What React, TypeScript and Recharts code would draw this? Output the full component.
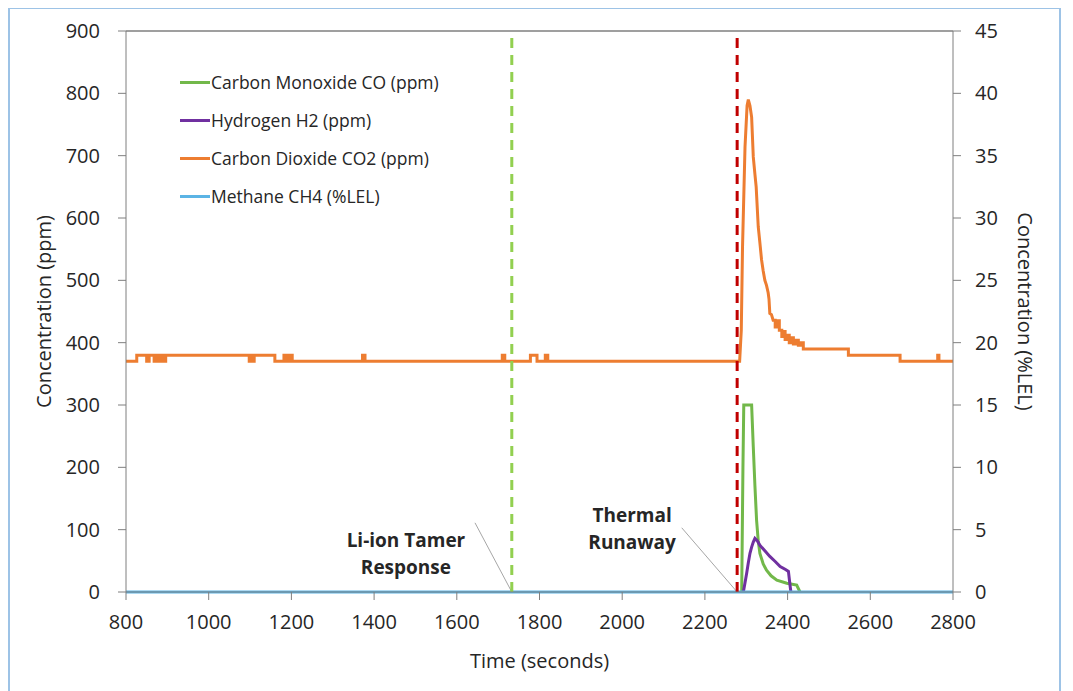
import React from 'react';
import {
  ComposedChart, Line, XAxis, YAxis, ReferenceLine, ReferenceDot,
} from 'recharts';

type Pt = [number, number];

const xTicks = [800, 1000, 1200, 1400, 1600, 1800, 2000, 2200, 2400, 2600, 2800];
const leftTicks = [0, 100, 200, 300, 400, 500, 600, 700, 800, 900];
const rightTicks = [0, 5, 10, 15, 20, 25, 30, 35, 40, 45];

const coData: Pt[] = [
  [2289, 0], [2292, 200], [2294, 300], [2313, 300], [2317, 233], [2321, 170], [2325, 115],
  [2329, 82], [2333, 62], [2341, 45], [2349, 35], [2360, 26], [2374, 19], [2398, 14],
  [2422, 11], [2430, 0],
];

const h2Data: Pt[] = [
  [2293, 0], [2297, 15], [2301, 30], [2305, 47], [2309, 62], [2313, 72], [2317, 80],
  [2321, 86], [2327, 82], [2333, 75], [2345, 66], [2357, 57], [2370, 49], [2382, 41],
  [2395, 36], [2402, 33], [2406, 10], [2408, 0],
];

const co2Data: Pt[] = [
  [800, 370], [826, 370], [826, 380], [850, 380], [850, 370], [856, 370], [856, 380],
  [868, 380], [868, 370], [872, 370], [872, 380], [876, 380], [876, 370], [880, 370],
  [880, 380], [884, 380], [884, 370], [888, 370], [888, 380], [892, 380], [892, 370],
  [896, 370], [896, 380], [1098, 380], [1098, 370], [1102, 370], [1102, 380], [1106, 380],
  [1106, 370], [1110, 370], [1110, 380], [1160, 380], [1160, 370], [1182, 370], [1182, 380],
  [1186, 380], [1186, 370], [1192, 370], [1192, 380], [1195, 380], [1195, 370], [1199, 370],
  [1199, 380], [1202, 380], [1202, 370], [1372, 370], [1372, 380], [1378, 380], [1378, 370],
  [1710, 370], [1710, 380], [1716, 380], [1716, 370], [1778, 370], [1778, 380], [1794, 380],
  [1794, 370], [1814, 370], [1814, 380], [1820, 380], [1820, 370],
  [2284, 370], [2288, 420], [2291, 554], [2297, 714], [2302, 780], [2305, 790], [2309, 780],
  [2313, 762], [2317, 698], [2321, 670], [2324, 650], [2329, 586], [2333, 560], [2337, 533],
  [2341, 515], [2345, 500], [2349, 492], [2353, 480], [2355, 470], [2357, 447], [2361, 445],
  [2365, 436], [2370, 436], [2370, 425], [2376, 425], [2376, 435], [2380, 435], [2380, 420],
  [2386, 420], [2386, 410], [2390, 410], [2390, 418], [2394, 418], [2394, 405], [2400, 405],
  [2400, 412], [2404, 412], [2404, 400], [2410, 400], [2410, 408], [2414, 408], [2414, 398],
  [2420, 398], [2420, 404], [2426, 404], [2426, 396], [2432, 396], [2432, 400], [2438, 400],
  [2438, 390], [2547, 390], [2547, 380], [2672, 380], [2672, 370], [2763, 370], [2763, 380],
  [2766, 380], [2766, 370], [2800, 370],
];

const ch4Data: Pt[] = [[800, 0], [2800, 0]];

const tamerTime = 1733;
const runawayTime = 2278;

const toRows = (pts: Pt[]) => pts.map(([t, v]) => ({ t, v }));

const legendItems = [
  { name: 'Carbon Monoxide CO (ppm)', color: '#72b84a' },
  { name: 'Hydrogen H2 (ppm)', color: '#7030a0' },
  { name: 'Carbon Dioxide CO2 (ppm)', color: '#ed7d31' },
  { name: 'Methane CH4 (%LEL)', color: '#5bb4e5' },
];

const FONT = '"Open Sans", sans-serif';
const TXT = '#262626';
const AXIS = '#7f7f7f';

const twoLineLabel = (l1: string, l2: string) => (props: any) => {
  const vb = props.viewBox || {};
  const cx = vb.cx ?? vb.x;
  const cy = vb.cy ?? vb.y;
  return (
    <text x={cx} y={cy} textAnchor="middle" fontFamily={FONT} fontWeight={700} fontSize={19} fill={TXT}>
      <tspan x={cx} dy={0}>{l1}</tspan>
      <tspan x={cx} dy={27}>{l2}</tspan>
    </text>
  );
};

export default function App() {
  return (
    <div style={{ position: 'relative', width: 1049, height: 700, marginTop: -1, border: '2px solid #9dc3e6', background: '#fff' }}>
      <ComposedChart
        width={1049}
        height={680}
        margin={{ top: 22, right: 0, bottom: 0, left: 0 }}
      >
        <XAxis
          dataKey="t"
          type="number"
          domain={[800, 2800]}
          ticks={xTicks}
          allowDuplicatedCategory={false}
          height={97}
          stroke={AXIS}
          tickSize={8}
          tickMargin={15}
          tick={{ fill: TXT, fontSize: 20, fontFamily: FONT }}
          label={{ value: 'Time (seconds)', position: 'insideTop', offset: 62, fill: TXT, fontSize: 20, fontFamily: FONT }}
        />
        <YAxis
          yAxisId="left"
          domain={[0, 900]}
          ticks={leftTicks}
          width={116}
          stroke={AXIS}
          tickSize={8}
          tickMargin={18}
          tick={{ fill: TXT, fontSize: 20, fontFamily: FONT }}
          label={{ value: 'Concentration (ppm)', angle: -90, position: 'insideLeft', offset: 34, fill: TXT, fontSize: 20, fontFamily: FONT, style: { textAnchor: 'middle' } }}
        />
        <YAxis
          yAxisId="right"
          orientation="right"
          domain={[0, 45]}
          ticks={rightTicks}
          width={106}
          stroke={AXIS}
          tickSize={8}
          tickMargin={14}
          tick={{ fill: TXT, fontSize: 20, fontFamily: FONT }}
          label={{ value: 'Concentration (%LEL)', angle: 90, position: 'insideRight', offset: 34, fill: TXT, fontSize: 20, fontFamily: FONT, style: { textAnchor: 'middle' } }}
        />
        <ReferenceLine yAxisId="left" y={900} stroke={AXIS} strokeWidth={1.5} />
        <ReferenceLine
          yAxisId="left"
          segment={[{ x: 1644, y: 111 }, { x: tamerTime, y: 0 }]}
          stroke="#a6a6a6"
          strokeWidth={1}
        />
        <ReferenceLine
          yAxisId="left"
          segment={[{ x: 2144, y: 103 }, { x: runawayTime, y: 0 }]}
          stroke="#a6a6a6"
          strokeWidth={1}
        />
        <Line yAxisId="left" data={toRows(coData)} dataKey="v" name={legendItems[0].name} stroke="#72b84a" strokeWidth={3} dot={false} isAnimationActive={false} type="linear" />
        <Line yAxisId="left" data={toRows(h2Data)} dataKey="v" name={legendItems[1].name} stroke="#7030a0" strokeWidth={3} dot={false} isAnimationActive={false} type="linear" />
        <Line yAxisId="left" data={toRows(co2Data)} dataKey="v" name={legendItems[2].name} stroke="#ed7d31" strokeWidth={3} dot={false} isAnimationActive={false} type="linear" />
        <Line yAxisId="right" data={toRows(ch4Data)} dataKey="v" name={legendItems[3].name} stroke="#5bb4e5" strokeWidth={3} dot={false} isAnimationActive={false} type="linear" />
        <ReferenceLine yAxisId="left" x={tamerTime} stroke="#92d050" strokeWidth={3} strokeDasharray="10 7" />
        <ReferenceLine yAxisId="left" x={runawayTime} stroke="#c00000" strokeWidth={3} strokeDasharray="10 7" />
        <ReferenceDot yAxisId="left" x={1477} y={72} r={0} stroke="none" label={{ content: twoLineLabel('Li-ion Tamer', 'Response') as any }} />
        <ReferenceDot yAxisId="left" x={2024} y={112} r={0} stroke="none" label={{ content: twoLineLabel('Thermal', 'Runaway') as any }} />
      </ComposedChart>
      <div style={{ position: 'absolute', left: 170, top: 54, fontFamily: FONT, fontSize: 17.5, color: TXT }}>
        {legendItems.map((it) => (
          <div key={it.name} style={{ display: 'flex', alignItems: 'center', height: 38 }}>
            <div style={{ width: 30, height: 3, background: it.color, marginRight: 1 }} />
            <span>{it.name}</span>
          </div>
        ))}
      </div>
    </div>
  );
}
